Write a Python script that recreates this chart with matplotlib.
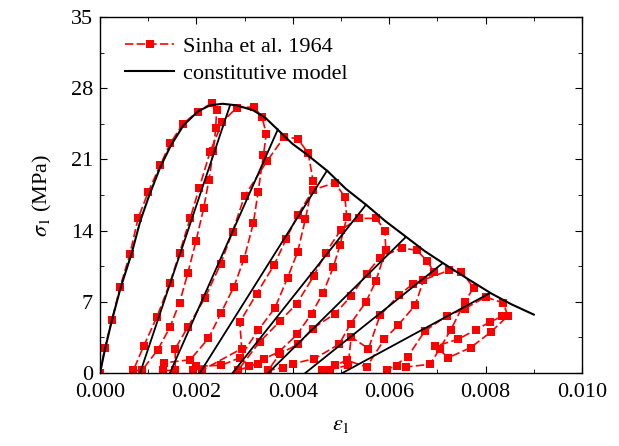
import numpy as np
import matplotlib
matplotlib.use('Agg')
import matplotlib.pyplot as plt

plt.rcParams['font.family'] = ['Liberation Serif', 'DejaVu Serif']
plt.rcParams['mathtext.fontset'] = 'stix'

# Sinha et al. 1964 test data, one continuous path
env_x = [0, 0.00010, 0.000245, 0.00042, 0.00062, 0.00079, 0.00100, 0.00125, 0.00146, 0.00172, 0.00203, 0.00232]
env_y = [0, 2.45, 5.2, 8.5, 11.7, 15.2, 17.8, 20.45, 22.6, 24.5, 25.7, 26.55]

loop1_x = [0.00242, 0.00240, 0.00235, 0.00226, 0.00215, 0.00199, 0.00182, 0.00165, 0.00145, 0.00120, 0.00087,
           0.00069, 0.00091, 0.00118, 0.00145, 0.00165, 0.00187, 0.00206, 0.00228, 0.00254, 0.00284, 0.00319]
loop1_y = [25.9, 24.1, 21.8, 19.0, 16.2, 12.95, 9.8, 6.9, 4.5, 2.3, 0.25,
           0.25, 2.7, 5.5, 8.85, 11.8, 15.2, 18.2, 21.7, 24.7, 26.1, 26.15]

loop2_x = [0.00336, 0.00345, 0.00339, 0.00328, 0.00318, 0.00299, 0.00278, 0.00251, 0.00225, 0.00187, 0.00133, 0.00130,
           0.00156, 0.00156, 0.00182, 0.00218, 0.00250, 0.00275, 0.00300, 0.00346, 0.00382, 0.00410]
loop2_y = [25.2, 23.5, 21.4, 17.8, 14.7, 11.25, 8.5, 5.9, 3.4, 1.3, 1.0, 0.25,
           0.25, 2.4, 4.5, 7.4, 10.7, 13.9, 17.4, 20.8, 23.2, 23.05]

loop3_x = [0.00432, 0.00442, 0.00426, 0.00410, 0.00389, 0.00363, 0.00328, 0.00290, 0.00252, 0.00199, 0.00192,
           0.00211, 0.00294, 0.00290, 0.00325, 0.00361, 0.00386, 0.00410, 0.00442, 0.00487]
loop3_y = [21.6, 18.9, 15.1, 11.9, 9.35, 6.4, 4.2, 1.5, 0.76, 0.66, 0.25,
           0.25, 2.4, 5.0, 7.8, 10.6, 13.15, 15.5, 18.0, 18.7]

loop4_x = [0.00508, 0.00512, 0.00498, 0.00484, 0.00463, 0.00439, 0.00409, 0.00371, 0.00341, 0.00327, 0.00310, 0.00286,
           0.00331, 0.00373, 0.00408, 0.00443, 0.00468, 0.00500, 0.00538, 0.00573]
loop4_y = [17.3, 15.3, 12.6, 10.4, 7.9, 5.84, 3.8, 2.07, 1.41, 0.92, 0.66, 0.25,
           3.05, 5.08, 6.8, 9.5, 11.8, 14.1, 15.2, 15.2]

loop5_x = [0.00591, 0.00593, 0.00572, 0.00552, 0.00520, 0.00496, 0.00445, 0.00401, 0.00380, 0.00349,
           0.00373, 0.00411, 0.00441, 0.00488, 0.00521, 0.00553, 0.00581, 0.00626, 0.00657]
loop5_y = [14.0, 12.1, 9.0, 7.0, 4.86, 2.82, 1.41, 0.92, 0.53, 0.25,
           1.9, 2.82, 4.37, 5.84, 7.57, 9.77, 11.35, 12.3, 12.06]

loop6_x = [0.00679, 0.00693, 0.00671, 0.00654, 0.00618, 0.00590, 0.00553, 0.00512, 0.00488, 0.00460,
           0.00477, 0.00515, 0.00521, 0.00557, 0.00581, 0.00620, 0.00650, 0.00725, 0.00750]
loop6_y = [11.0, 9.93, 9.11, 6.66, 4.69, 3.31, 0.59, 1.25, 0.76, 0.33,
           0.33, 0.76, 3.54, 2.4, 5.67, 7.64, 8.79, 10.1, 9.93]

loop7_x = [0.00775, 0.00757, 0.00728, 0.00705, 0.00685, 0.00635, 0.00616, 0.00596,
           0.00638, 0.00674, 0.00719, 0.00757, 0.00800, 0.00837]
loop7_y = [8.4, 6.98, 4.27, 2.4, 0.86, 0.59, 0.66, 0.27,
           1.57, 4.13, 5.6, 6.33, 7.47, 6.88]

loop8_x = [0.00846, 0.00811, 0.00769, 0.00723, 0.00695, 0.00743, 0.00780, 0.00809, 0.00835]
loop8_y = [5.6, 4.03, 2.5, 1.51, 2.62, 3.31, 4.27, 5.0, 5.6]

# constitutive model: envelope and reloading lines
model_x = [0, 0.0000964, 0.000245, 0.00043, 0.000653, 0.000838, 0.00102, 0.00125, 0.00147, 0.00173, 0.00203,
           0.00228, 0.00254, 0.00284, 0.00318, 0.00343, 0.00369, 0.00399, 0.00429, 0.00472, 0.00510, 0.00553,
           0.00592, 0.00636, 0.00674, 0.00714, 0.00763, 0.00811, 0.00852, 0.00900]
model_y = [0, 2.20, 5.15, 8.43, 11.71, 14.99, 17.45, 20.24, 22.37, 24.34, 25.72,
           26.31, 26.47, 26.31, 25.82, 25.09, 23.91, 22.54, 21.49, 19.85, 18.11, 16.50,
           14.93, 13.35, 11.97, 10.73, 9.25, 7.84, 6.79, 5.74]
reload_start = [0.00083, 0.00145, 0.00207, 0.00275, 0.00349, 0.00426, 0.00503]
reload_end_x = [0.00270, 0.00369, 0.00471, 0.00552, 0.00633, 0.00711, 0.00809]
reload_end_y = [26.35, 23.95, 19.9, 16.55, 13.3, 10.8, 7.86]

test_x = env_x + loop1_x + loop2_x + loop3_x + loop4_x + loop5_x + loop6_x + loop7_x + loop8_x
test_y = env_y + loop1_y + loop2_y + loop3_y + loop4_y + loop5_y + loop6_y + loop7_y + loop8_y

fig = plt.figure(figsize=(6.19, 4.46), dpi=100)
ax = fig.add_axes([0.1616, 0.1637, 0.7786, 0.7982])

ax.plot(test_x, test_y, color='red', linestyle=(0, (5, 2)), linewidth=1.2,
        marker='s', markersize=5.5, markeredgewidth=0, label='Sinha et al. 1964', zorder=2)
ax.plot(model_x, model_y, color='black', linewidth=1.5, label='constitutive model', zorder=3)
for x0, x1, y1 in zip(reload_start, reload_end_x, reload_end_y):
    ax.plot([x0, x1], [0, y1], color='black', linewidth=1.3, zorder=3)

ax.set_xlim(0, 0.010)
ax.set_ylim(0, 35)
ax.set_xticks(np.arange(0, 0.0101, 0.002))
ax.set_xticks(np.arange(0, 0.0101, 0.001), minor=True)
ax.set_yticks(np.arange(0, 36, 7))
ax.set_yticks(np.arange(0, 36, 3.5), minor=True)
ax.xaxis.set_major_formatter(matplotlib.ticker.FormatStrFormatter('%.3f'))
ax.tick_params(which='both', direction='in', top=True, right=True, labelsize=16)
ax.tick_params(axis='x', pad=7)
ax.tick_params(axis='y', pad=5)
ax.tick_params(which='major', length=5)
ax.tick_params(which='minor', length=3)
for s in ax.spines.values():
    s.set_linewidth(1.0)

ax.set_xlabel(r'$\varepsilon_1$', fontsize=16, labelpad=10)
ax.set_ylabel(r'$\sigma_1$ (MPa)', fontsize=16, labelpad=12)

ax.legend(loc='upper left', bbox_to_anchor=(0.02, 0.99), frameon=False, fontsize=16,
          handlelength=2.2, handletextpad=0.4, labelspacing=0.3, borderaxespad=0.3)

fig.savefig('out.png', dpi=100)
